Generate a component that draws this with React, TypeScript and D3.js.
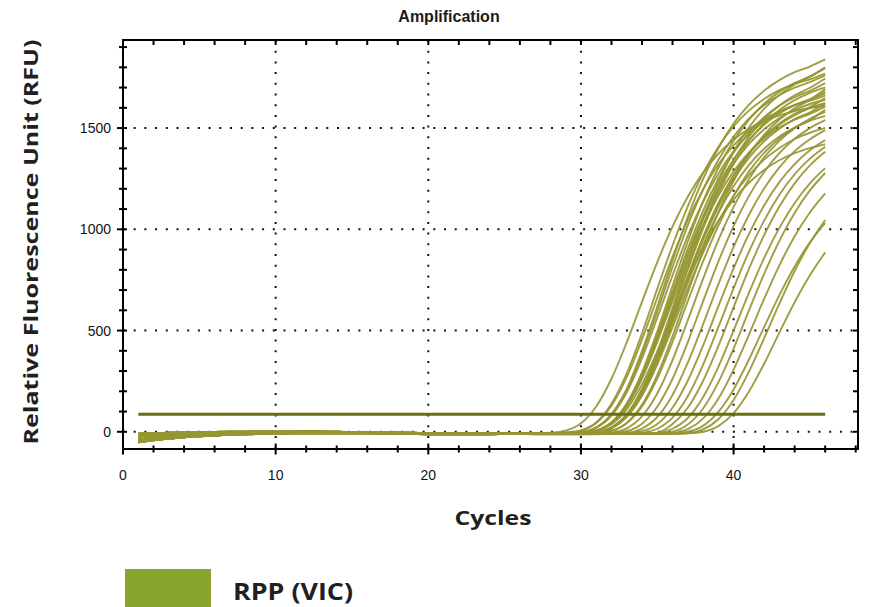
import React from 'react';
import * as d3 from 'd3';

// Cycle numbers (x categories)
const cycles = [1, 2, 3, 4, 5, 6, 7, 8, 9, 10, 11, 12, 13, 14, 15, 16, 17, 18, 19, 20, 21, 22, 23, 24, 25, 26, 27, 28, 29, 30, 31, 32, 33, 34, 35, 36, 37, 38, 39, 40, 41, 42, 43, 44, 45, 46];

// Baseline traces, cycles 1..26 (RFU)
const baseLow = [-52, -42, -34, -27, -22, -18, -15, -12, -10, -9, -8, -7, -7, -7, -7, -8, -9, -10, -11, -12, -12, -12, -12, -12, -11, -10];
const baseMid = [-38, -30, -23, -18, -14, -11, -8, -6, -5, -4, -3, -3, -3, -3, -4, -5, -6, -7, -8, -9, -9, -9, -9, -9, -9, -9];
const baseUpper = [-24, -18, -13, -10, -7, -5, -4, -3, -2, -1, -1, 0, 0, -1, -2, -3, -4, -5, -6, -7, -7, -8, -8, -8, -8, -8];
const baseHigh = [-10, -7, -5, -3, -2, -1, 0, 1, 2, 2, 2, 2, 1, 0, -1, -2, -3, -4, -5, -6, -6, -7, -7, -7, -7, -7];
const baselines = [baseLow, baseMid, baseUpper, baseHigh];

// Amplification part of each well, cycles 27..46 (RFU)
const ampCurves = [
  [-7, -7, -6, -2, 22, 88, 212, 398, 618, 846, 1062, 1248, 1400, 1522, 1615, 1685, 1737, 1776, 1804, 1839],
  [-7, -7, -6, -4, 7, 47, 140, 293, 495, 720, 940, 1137, 1303, 1437, 1541, 1620, 1680, 1723, 1755, 1796],
  [-6, -6, -4, 7, 46, 138, 288, 486, 706, 920, 1113, 1276, 1407, 1508, 1586, 1644, 1687, 1718, 1741, 1769],
  [-8, -8, -7, -6, -2, 21, 84, 204, 381, 593, 812, 1018, 1195, 1341, 1457, 1546, 1612, 1662, 1699, 1745],
  [-7, -7, -6, -4, 6, 45, 134, 282, 476, 692, 903, 1091, 1250, 1379, 1478, 1554, 1611, 1653, 1684, 1722],
  [-8, -8, -8, -7, -5, 5, 44, 133, 280, 472, 686, 895, 1082, 1240, 1368, 1467, 1542, 1598, 1640, 1693],
  [-6, -6, -5, -1, 20, 80, 195, 363, 564, 772, 968, 1136, 1275, 1385, 1469, 1532, 1580, 1615, 1640, 1672],
  [-8, -8, -7, -6, -2, 20, 80, 194, 361, 560, 767, 961, 1129, 1267, 1376, 1460, 1523, 1570, 1604, 1648],
  [-9, -9, -8, -7, -3, 19, 79, 193, 359, 558, 765, 958, 1125, 1262, 1371, 1454, 1517, 1564, 1599, 1624],
  [-7, -7, -6, -4, 5, 42, 125, 263, 444, 645, 842, 1017, 1166, 1286, 1379, 1449, 1502, 1542, 1570, 1606],
  [-8, -8, -7, -5, 5, 43, 129, 271, 458, 665, 868, 1049, 1202, 1325, 1421, 1494, 1549, 1589, 1619, 1640],
  [-6, -6, -4, 6, 43, 129, 270, 456, 662, 864, 1045, 1197, 1320, 1415, 1488, 1543, 1583, 1612, 1634, 1660],
  [-9, -9, -8, -7, -3, 20, 83, 202, 377, 585, 801, 1003, 1178, 1322, 1436, 1523, 1589, 1638, 1674, 1701],
  [-8, -8, -7, -6, -2, 19, 78, 190, 355, 551, 755, 946, 1110, 1246, 1353, 1435, 1497, 1544, 1578, 1621],
  [-6, -6, -5, -1, 21, 84, 205, 382, 594, 813, 1019, 1196, 1342, 1458, 1547, 1613, 1663, 1700, 1727, 1760],
  [-8, -8, -8, -7, -5, 5, 42, 125, 263, 444, 645, 841, 1017, 1165, 1285, 1378, 1449, 1501, 1541, 1590],
  [-9, -9, -8, -7, -3, 18, 76, 185, 345, 537, 735, 921, 1081, 1213, 1317, 1398, 1458, 1502, 1536, 1560],
  [-7, -7, -6, -4, 6, 44, 131, 275, 464, 675, 881, 1064, 1220, 1345, 1442, 1516, 1572, 1613, 1643, 1680],
  [-8, -8, -7, -6, -2, 22, 87, 212, 394, 612, 839, 1050, 1233, 1384, 1503, 1595, 1664, 1715, 1753, 1800],
  [-6, -4, 6, 42, 125, 262, 442, 642, 838, 1013, 1161, 1280, 1373, 1443, 1496, 1535, 1563, 1584, 1599, 1610],
  [-8, -8, -7, -5, 4, 37, 111, 234, 396, 575, 751, 908, 1041, 1147, 1230, 1293, 1341, 1376, 1401, 1420],
  [-9, -9, -8, -7, -3, 17, 73, 178, 332, 516, 707, 885, 1039, 1166, 1267, 1344, 1402, 1446, 1477, 1501],
  [-10, -10, -10, -10, -9, -9, -8, -7, -4, 39, 119, 251, 423, 615, 803, 971, 1113, 1227, 1316, 1383],
  [-10, -10, -10, -10, -9, -9, -8, -5, 15, 70, 176, 331, 517, 709, 889, 1043, 1171, 1272, 1349, 1408],
  [-10, -10, -10, -9, -9, -8, -6, 3, 38, 119, 252, 426, 619, 807, 976, 1118, 1233, 1322, 1390, 1441],
  [-10, -10, -9, -9, -9, -8, -5, 16, 73, 182, 341, 531, 728, 913, 1071, 1202, 1306, 1386, 1445, 1490],
  [-10, -9, -9, -9, -8, -6, 3, 40, 124, 262, 443, 644, 840, 1016, 1164, 1283, 1376, 1447, 1500, 1539],
  [-10, -9, -9, -9, -8, -5, 17, 76, 189, 354, 551, 755, 947, 1111, 1247, 1355, 1437, 1499, 1546, 1580],
  [-12, -12, -12, -12, -12, -11, -11, -11, -10, -10, -8, 0, 28, 92, 198, 336, 490, 640, 773, 886],
  [-12, -12, -12, -12, -11, -11, -11, -10, -10, -10, -7, 12, 62, 157, 296, 462, 633, 794, 932, 1046],
  [-11, -11, -11, -11, -11, -10, -10, -10, -10, -9, 0, 29, 98, 209, 356, 517, 675, 816, 936, 1032],
  [-11, -11, -11, -11, -10, -10, -10, -10, -9, -6, 13, 65, 163, 307, 479, 656, 822, 966, 1083, 1177],
  [-11, -11, -11, -10, -10, -10, -10, -9, -8, 1, 36, 115, 244, 411, 598, 780, 943, 1081, 1192, 1278],
  [-11, -11, -10, -10, -10, -10, -9, -9, -6, 15, 68, 171, 321, 500, 685, 858, 1007, 1130, 1227, 1302],
];
// which baseline trace each well follows
const curveBaseline = [0, 1, 2, 3, 1, 0, 2, 3, 1, 2, 0, 3, 1, 2, 3, 0, 1, 2, 3, 1, 0, 2, 0, 1, 2, 3, 0, 1, 0, 1, 2, 3, 0, 1];

const thresholdRFU = 87;
const thresholdCycles = [1, 46];
const xTickLabels = [0, 10, 20, 30, 40];
const yTickLabels = [0, 500, 1000, 1500];
const xMinorTicks = [0, 2, 4, 6, 8, 10, 12, 14, 16, 18, 20, 22, 24, 26, 28, 30, 32, 34, 36, 38, 40, 42, 44, 46, 48];
const yMinorTicks = [0, 100, 200, 300, 400, 500, 600, 700, 800, 900, 1000, 1100, 1200, 1300, 1400, 1500, 1600, 1700, 1800, 1900];
const legendLabel = 'RPP (VIC)';

export default function App() {
  const W = 873, H = 607;
  const left = 123, right = 858, top = 40, bottom = 449;
  const x = d3.scaleLinear().domain([0, 48.15]).range([left, right]);
  const y = d3.scaleLinear().domain([-85, 1935]).range([bottom, top]);
  const line = d3
    .line<number>()
    .x((_, i) => x(cycles[i]))
    .y((d) => y(d))
    .curve(d3.curveMonotoneX);
  const series = ampCurves.map((g, i) => [...baselines[curveBaseline[i]], ...g]);
  const tickFont = "'Liberation Sans', Arial, sans-serif";
  const boldFont = "'Open Sans', 'DejaVu Sans', sans-serif";
  const dots = '2 8.7';

  return (
    <svg
      width={W}
      height={H}
      viewBox={`0 0 ${W} ${H}`}
      style={{ position: 'absolute', left: 0, top: 0, background: '#fff' }}
    >
      <rect x={0} y={0} width={W} height={H} fill="#fff" />
      <text x={449} y={22} textAnchor="middle" fontFamily={tickFont} fontWeight="bold" fontSize={16} fill="#1b1b1b">
        Amplification
      </text>

      {/* grid */}
      {xTickLabels.filter((v) => v > 0).map((v) => (
        <line key={'gx' + v} x1={x(v)} x2={x(v)} y1={top} y2={bottom} stroke="#111" strokeWidth={2} strokeDasharray={dots} />
      ))}
      {yTickLabels.map((v) => (
        <line key={'gy' + v} x1={left} x2={right} y1={y(v)} y2={y(v)} stroke="#111" strokeWidth={2} strokeDasharray={dots} />
      ))}

      {/* curves */}
      <g fill="none" stroke="#969632" strokeWidth={1.9} strokeOpacity={0.92}>
        {series.map((s, i) => (
          <path key={i} d={line(s) || ''} />
        ))}
      </g>
      {/* threshold */}
      <line
        x1={x(thresholdCycles[0])}
        x2={x(thresholdCycles[1])}
        y1={y(thresholdRFU)}
        y2={y(thresholdRFU)}
        stroke="#6c6c12"
        strokeWidth={3}
      />

      {/* frame */}
      <rect x={left} y={top} width={right - left} height={bottom - top} fill="none" stroke="#000" strokeWidth={2} />

      {/* x ticks */}
      {xMinorTicks.map((v) => {
        const major = v % 10 === 0;
        const h = major ? 5.5 : 3.5;
        return (
          <g key={'xt' + v}>
            <line x1={x(v)} x2={x(v)} y1={bottom - h} y2={bottom + h} stroke="#000" strokeWidth={2} />
            <line x1={x(v)} x2={x(v)} y1={top} y2={top + 5} stroke="#000" strokeWidth={2} />
          </g>
        );
      })}
      {xTickLabels.map((v) => (
        <text key={'xl' + v} x={x(v)} y={480} textAnchor="middle" fontFamily={tickFont} fontSize={14} fill="#141414">
          {v}
        </text>
      ))}

      {/* y ticks */}
      {yMinorTicks.map((v) => {
        const major = v % 500 === 0;
        return (
          <g key={'yt' + v}>
            <line x1={left - (major ? 6 : 4)} x2={left + 4} y1={y(v)} y2={y(v)} stroke="#000" strokeWidth={2} />
            <line x1={right - 5} x2={right} y1={y(v)} y2={y(v)} stroke="#000" strokeWidth={2} />
          </g>
        );
      })}
      {yTickLabels.map((v) => (
        <text key={'yl' + v} x={111} y={y(v) + 5} textAnchor="end" fontFamily={tickFont} fontSize={14} fill="#141414">
          {v}
        </text>
      ))}

      {/* axis titles */}
      <text
        transform={`translate(38, 242) rotate(-90)`}
        textAnchor="middle"
        fontFamily={boldFont}
        fontWeight={700}
        fontSize={20}
        fill="#231f20"
        textLength={405}
        lengthAdjust="spacingAndGlyphs"
      >
        Relative Fluorescence Unit (RFU)
      </text>
      <text x={493} y={525} textAnchor="middle" fontFamily={boldFont} fontWeight={700} fontSize={20} fill="#231f20" textLength={77} lengthAdjust="spacingAndGlyphs">
        Cycles
      </text>

      {/* legend */}
      <rect x={125} y={569} width={86} height={38} fill="#89a52f" />
      <text x={233} y={600} fontFamily={boldFont} fontWeight={700} fontSize={23} fill="#231f20" textLength={120} lengthAdjust="spacingAndGlyphs">
        {legendLabel}
      </text>
    </svg>
  );
}
